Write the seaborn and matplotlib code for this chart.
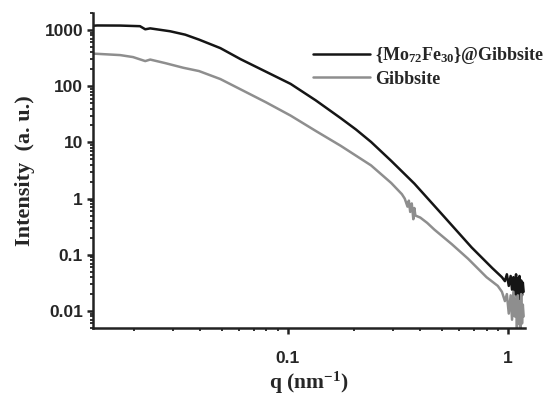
import pandas as pd
import seaborn as sns
import matplotlib.pyplot as plt
from matplotlib import ticker

# values (log-log SAXS curves)
q_black = [0.0130, 0.0136, 0.0173, 0.0213, 0.0225, 0.0237, 0.0292, 0.0342, 0.0395,
           0.0494, 0.0610, 0.0794, 0.1030, 0.1340, 0.1740, 0.2040, 0.2390, 0.2950,
           0.3760, 0.4990, 0.6850, 0.8500, 0.9400, 0.9700, 0.9900, 1.0100, 1.0300,
           1.0450, 1.0600, 1.0750, 1.0900, 1.1000, 1.1100, 1.1200, 1.1300, 1.1400,
           1.1500, 1.1600, 1.1700, 1.1800]
i_black = [1190, 1205, 1200, 1170, 1030, 1070, 950, 826, 675,
           476, 303, 182, 110, 56, 27, 17, 10.2, 4.7,
           1.85, 0.54, 0.135, 0.058, 0.04, 0.034, 0.045, 0.028, 0.042,
           0.024, 0.04, 0.02, 0.045, 0.018, 0.038, 0.017, 0.042, 0.015,
           0.035, 0.019, 0.032, 0.022]

q_gray = [0.0130, 0.0136, 0.0173, 0.0198, 0.0225, 0.0237, 0.0277, 0.0335, 0.0395,
          0.0494, 0.0610, 0.0794, 0.1030, 0.1340, 0.1740, 0.2390, 0.2950, 0.3300,
          0.3400, 0.3500, 0.3550, 0.3600, 0.3660, 0.3720, 0.3760, 0.3800, 0.4000,
          0.4300, 0.4640, 0.5560, 0.6600, 0.8000, 0.9000, 0.9400, 0.9700, 0.9900,
          1.0100, 1.0300, 1.0450, 1.0600, 1.0750, 1.0900, 1.1000, 1.1100, 1.1200,
          1.1300, 1.1400, 1.1500, 1.1600, 1.1700, 1.1800]
i_gray = [380, 377, 358, 330, 280, 298, 258, 213, 186,
          134, 88, 52, 30, 16, 8.7, 3.9, 1.9, 1.2,
          1.0, 0.72, 0.92, 0.58, 0.82, 0.43, 0.68, 0.5, 0.46,
          0.37, 0.28, 0.155, 0.085, 0.04, 0.028, 0.022, 0.015, 0.02,
          0.009, 0.019, 0.007, 0.022, 0.008, 0.017, 0.005, 0.019, 0.006,
          0.015, 0.005, 0.02, 0.006, 0.013, 0.008]

label_black = r"{Mo$_{72}$Fe$_{30}$}@Gibbsite"
label_gray = "Gibbsite"

df = pd.concat([
    pd.DataFrame({"q": q_black, "I": i_black, "sample": label_black}),
    pd.DataFrame({"q": q_gray, "I": i_gray, "sample": label_gray}),
])

sns.set_style("ticks")
plt.rcParams["mathtext.fontset"] = "custom"
plt.rcParams["mathtext.rm"] = "Liberation Serif:bold"
plt.rcParams["mathtext.it"] = "Liberation Serif:bold"
plt.rcParams["mathtext.bf"] = "Liberation Serif:bold"

fig = plt.figure(figsize=(5.46, 3.97), dpi=100)
ax = fig.add_axes([0.170, 0.174, 0.792, 0.793])

sns.lineplot(data=df, x="q", y="I", hue="sample", sort=False, estimator=None,
             palette={label_black: "#151515", label_gray: "#8e8e8e"},
             linewidth=1.8, ax=ax)

ax.set_xscale("log")
ax.set_yscale("log")
ax.set_xlim(0.0130, 1.2)
ax.set_ylim(0.005, 2000)

fmt = ticker.FuncFormatter(lambda v, p: "%g" % v)
ax.xaxis.set_major_formatter(fmt)
ax.yaxis.set_major_formatter(fmt)
ax.xaxis.set_minor_formatter(ticker.NullFormatter())
ax.yaxis.set_minor_formatter(ticker.NullFormatter())
ax.xaxis.set_minor_locator(ticker.LogLocator(subs=range(2, 10), numticks=20))
ax.yaxis.set_minor_locator(ticker.LogLocator(subs=range(2, 10), numticks=20))

sns.despine(ax=ax)
for s in ["left", "bottom"]:
    ax.spines[s].set_linewidth(1.8)
    ax.spines[s].set_color("#222222")
ax.tick_params(which="major", length=4.5, width=1.8, color="#222222")
ax.tick_params(which="minor", length=2.5, width=1.3, color="#222222")
ax.tick_params(axis="x", which="major", pad=12)
ax.tick_params(axis="y", which="major", pad=2.5)
for lab in ax.get_xticklabels() + ax.get_yticklabels():
    lab.set_fontfamily("Liberation Sans")
    lab.set_fontweight("bold")
    lab.set_fontsize(12.5)

ax.set_xlabel(r"q (nm$^{\mathregular{-1}}$)", fontfamily="Liberation Serif",
              fontweight="bold", fontsize=15.5, labelpad=3)
ax.set_ylabel("Intensity  (a. u.)", fontfamily="Liberation Serif",
              fontweight="bold", fontsize=16, labelpad=7)

leg = ax.legend(loc="upper left", bbox_to_anchor=(313 / 546, 1 - 45 / 397),
                bbox_transform=fig.transFigure, frameon=False,
                borderpad=0, borderaxespad=0,
                handlelength=3.15, handletextpad=0.3, labelspacing=0.25,
                prop={"family": "Liberation Serif", "weight": "bold", "size": 13})
for line in leg.get_lines():
    line.set_linewidth(1.8)

fig.savefig("out.png", dpi=100)
